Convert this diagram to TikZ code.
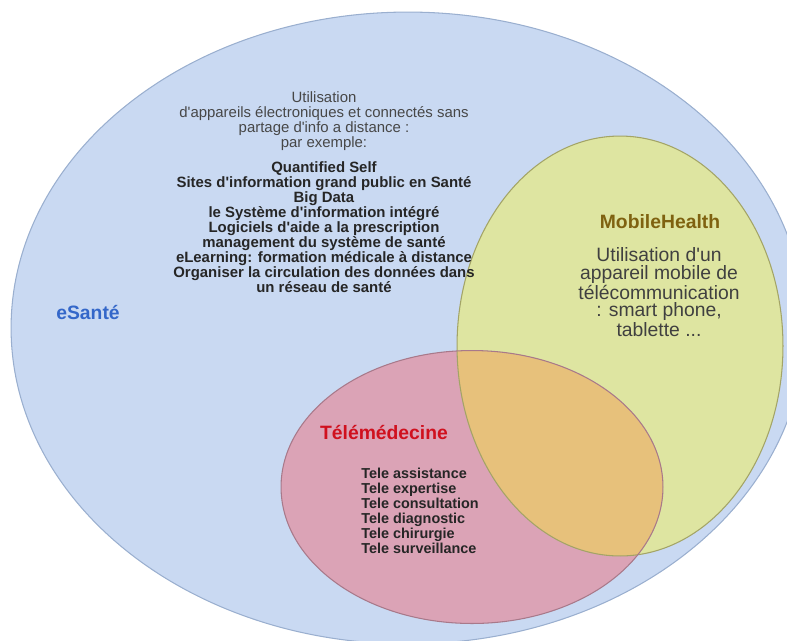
\documentclass[tikz,border=0pt]{standalone}
\usepackage{fontspec}
\setmainfont{Liberation Sans}
\usetikzlibrary{positioning}

\definecolor{santefill}{HTML}{C9D9F2}
\definecolor{santeline}{HTML}{9AAFCF}
\definecolor{mobilefill}{HTML}{DEE5A1}
\definecolor{mobileline}{HTML}{A3A466}
\definecolor{telefill}{HTML}{DBA3B6}
\definecolor{teleline}{HTML}{A8798A}
\definecolor{bothfill}{HTML}{E7C17B}
\definecolor{santetext}{HTML}{3467C9}
\definecolor{mobiletext}{HTML}{7F6210}
\definecolor{teletext}{HTML}{D0101E}
\definecolor{bodytext}{HTML}{262626}
\newcommand{\apos}{\textquotesingle}

\begin{document}
\begin{tikzpicture}[x=0.02cm,y=-0.02cm,
        title/.style={font=\fontsize{11}{12}\selectfont\bfseries},
        body/.style={text=bodytext, align=center, inner sep=0pt}]
    \useasboundingbox (0,0) rectangle (787,640);
    \clip (0,0) rectangle (787,640);

    \coordinate (cS) at (408,328);
    \coordinate (cM) at (620,346);
    \coordinate (cT) at (472,487);

    % sets
    \fill[santefill] (cS) ellipse [x radius=7.94cm, y radius=6.32cm];
    \fill[mobilefill] (cM) ellipse [x radius=3.26cm, y radius=4.2cm];
    \fill[telefill] (cT) ellipse [x radius=3.82cm, y radius=2.73cm];
    \begin{scope}
        \clip (cM) ellipse [x radius=3.26cm, y radius=4.2cm];
        \fill[bothfill] (cT) ellipse [x radius=3.82cm, y radius=2.73cm];
    \end{scope}
    \draw[santeline, line width=0.6pt] (cS) ellipse [x radius=7.94cm, y radius=6.32cm];
    \draw[mobileline, line width=0.6pt] (cM) ellipse [x radius=3.26cm, y radius=4.2cm];
    \draw[teleline, line width=0.6pt] (cT) ellipse [x radius=3.82cm, y radius=2.73cm];

    % labels
    \node[title, text=santetext] (esante) at (88,312) {eSanté};
    \node[title, text=mobiletext] (mobile) at (660,222) {MobileHealth};
    \node[title, text=teletext] (tele) at (384,432) {Télémédecine};

    \node[body, font=\fontsize{8.5}{8.55}\selectfont] (esantetxt) at (324,192) {%
        \textcolor{black!72}{Utilisation}\\
        \textcolor{black!72}{d\apos appareils électroniques et connectés sans}\\
        \textcolor{black!72}{partage d\apos info a distance :}\\
        \textcolor{black!72}{par exemple:}\\[5.7pt]
        \textbf{Quantified Self}\\
        \textbf{Sites d\apos information grand public en Santé}\\
        \textbf{Big Data}\\
        \textbf{le Système d\apos information intégré}\\
        \textbf{Logiciels d\apos aide a la prescription}\\
        \textbf{management du système de santé}\\
        \textbf{eLearning: formation médicale à distance}\\
        \textbf{Organiser la circulation des données dans}\\
        \textbf{un réseau de santé}};

    \node[body, text=black!75, font=\fontsize{11}{9.8}\selectfont] (mobiletxt) at (659,292) {%
        Utilisation d\apos un\\
        appareil mobile de\\
        télécommunication\\
        : smart phone,\\
        tablette ...};

    \node[body, align=left, anchor=west, font=\fontsize{8.2}{8.55}\selectfont\bfseries] (teletxt) at (361,511) {%
        Tele assistance\\
        Tele expertise\\
        Tele consultation\\
        Tele diagnostic\\
        Tele chirurgie\\
        Tele surveillance};
\end{tikzpicture}
\end{document}
